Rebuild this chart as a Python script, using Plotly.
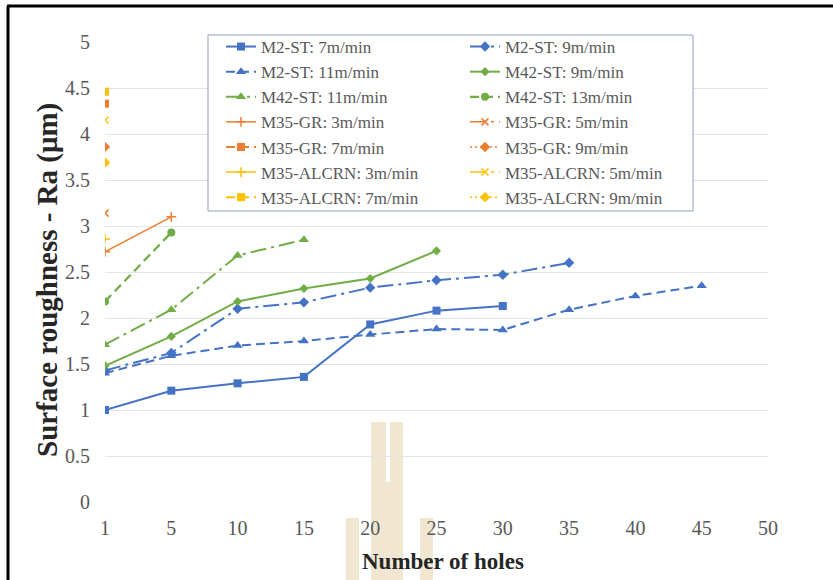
import plotly.graph_objects as go

# Number of holes drilled (category axis)
holes = ["1", "5", "10", "15", "20", "25", "30", "35", "40", "45", "50"]

# Surface roughness Ra (um) per tool / cutting speed
m2_st_7 = [1.00, 1.21, 1.29, 1.36, 1.93, 2.08, 2.13]
m2_st_9 = [1.43, 1.62, 2.10, 2.17, 2.33, 2.41, 2.47, 2.60]
m2_st_11 = [1.40, 1.59, 1.70, 1.75, 1.82, 1.88, 1.87, 2.09, 2.24, 2.35]
m42_st_9 = [1.48, 1.80, 2.18, 2.32, 2.43, 2.73]
m42_st_11 = [1.71, 2.09, 2.68, 2.85]
m42_st_13 = [2.18, 2.93]
m35_gr_3 = [2.72, 3.10]
m35_gr_5 = [3.14]
m35_gr_7 = [4.33]
m35_gr_9 = [3.86]
m35_alcrn_3 = [2.86]
m35_alcrn_5 = [4.15]
m35_alcrn_7 = [4.46]
m35_alcrn_9 = [3.69]

BLUE = "#4472C4"
GREEN = "#70AD47"
ORANGE = "#ED7D31"
GOLD = "#FFC000"

DASH = "9px,5px"
DASHDOT = "16px,5px,3px,5px"
DOT = "2px,3px"

series = [
    ("M2-ST: 7m/min", m2_st_7, BLUE, "solid", "square", 8, 2),
    ("M2-ST: 9m/min", m2_st_9, BLUE, DASHDOT, "diamond", 8, 2),
    ("M2-ST: 11m/min", m2_st_11, BLUE, DASH, "triangle-up", 9, 2),
    ("M42-ST: 9m/min", m42_st_9, GREEN, "solid", "diamond", 7, 2),
    ("M42-ST: 11m/min", m42_st_11, GREEN, DASHDOT, "triangle-up", 9, 2),
    ("M42-ST: 13m/min", m42_st_13, GREEN, DASH, "circle", 8, 2.25),
    ("M35-GR: 3m/min", m35_gr_3, ORANGE, "solid", "cross-thin-open", 7, 1.5),
    ("M35-GR: 5m/min", m35_gr_5, ORANGE, DASHDOT, "x-thin-open", 7, 1.5),
    ("M35-GR: 7m/min", m35_gr_7, ORANGE, DASH, "square", 8, 2),
    ("M35-GR: 9m/min", m35_gr_9, ORANGE, DOT, "diamond", 8, 1.5),
    ("M35-ALCRN: 3m/min", m35_alcrn_3, GOLD, "solid", "cross-thin-open", 7, 1.5),
    ("M35-ALCRN: 5m/min", m35_alcrn_5, GOLD, DASHDOT, "x-thin-open", 7, 1.5),
    ("M35-ALCRN: 7m/min", m35_alcrn_7, GOLD, DASH, "square", 8, 2),
    ("M35-ALCRN: 9m/min", m35_alcrn_9, GOLD, DOT, "diamond", 8, 1.5),
]

fig = go.Figure()
for name, vals, color, dash, symbol, msize, lw in series:
    fig.add_trace(go.Scatter(
        x=holes[:len(vals)], y=vals, name=name, mode="lines+markers",
        line=dict(color=color, dash=dash, width=lw),
        marker=dict(symbol=symbol, size=msize, color=color,
                    line=dict(color=color, width=1.5 if "thin" in symbol else 0)),
    ))

W, H = 833, 580
L, R, T, B = 105, 65, 42, 78
PW, PH = W - L - R, H - T - B


def px(x):
    return (x - L) / PW


def py(y):
    return (H - B - y) / PH


shapes = []
# faint watermark emblem behind the axis area
WM = "#F1E6D0"
for x0, y0, x1, y1 in [(371, 422, 386, 580), (390, 422, 403, 580), (385, 482, 391, 580),
                       (346, 518, 359, 580), (420, 518, 433, 580)]:
    shapes.append(dict(type="rect", xref="paper", yref="paper", layer="below",
                       x0=px(x0), x1=px(x1), y0=py(y1), y1=py(y0),
                       fillcolor=WM, line=dict(width=0)))
# legend frame
shapes.append(dict(type="rect", xref="paper", yref="paper", layer="above",
                   x0=px(208), x1=px(693), y0=py(211), y1=py(35),
                   fillcolor="white", line=dict(color="#8E9EBF", width=1)))
# frame lines along the top and left edge of the figure
shapes.append(dict(type="line", xref="paper", yref="paper", x0=px(7), x1=px(833),
                   y0=py(6), y1=py(6), line=dict(color="black", width=3)))
shapes.append(dict(type="line", xref="paper", yref="paper", x0=px(8), x1=px(8),
                   y0=py(6), y1=py(580), line=dict(color="black", width=3)))

SERIF = "Liberation Serif"
TITLE_FONT = dict(family=SERIF, color="#262626")

annotations = [
    dict(text="<b>Number of holes</b>", xref="paper", yref="paper",
         x=px(443), y=py(561), xanchor="center", yanchor="middle", showarrow=False,
         font=dict(TITLE_FONT, size=23)),
    dict(text="<b>Surface roughness - Ra (μm)</b>", xref="paper", yref="paper",
         x=px(47), y=py(280), xanchor="center", yanchor="middle", showarrow=False,
         textangle=-90, font=dict(TITLE_FONT, size=29)),
]

fig.update_layout(
    width=W, height=H,
    margin=dict(l=L, r=R, t=T, b=B),
    paper_bgcolor="white", plot_bgcolor="white",
    font=dict(family=SERIF, color="#595959"),
    shapes=shapes,
    annotations=annotations,
    showlegend=True,
    legend=dict(
        orientation="h", x=px(221), y=py(29), xanchor="left", yanchor="top",
        entrywidth=199, entrywidthmode="pixels", itemwidth=30,
        bgcolor="rgba(0,0,0,0)", borderwidth=0,
        font=dict(family=SERIF, size=17, color="#595959"),
        traceorder="normal",
    ),
    xaxis=dict(
        type="category", categoryorder="array", categoryarray=holes,
        range=[0, len(holes) - 1], showgrid=False, zeroline=False,
        showline=False, ticks="", ticklabelstandoff=12,
        tickfont=dict(family=SERIF, size=20, color="#595959"),
    ),
    yaxis=dict(
        range=[0, 5], dtick=0.5, showgrid=True, gridcolor="#E4E4E4", gridwidth=1,
        zeroline=False, showline=False, ticks="", ticklabelstandoff=14,
        tickfont=dict(family=SERIF, size=20, color="#595959"),
    ),
)

fig.write_html("out.html")
